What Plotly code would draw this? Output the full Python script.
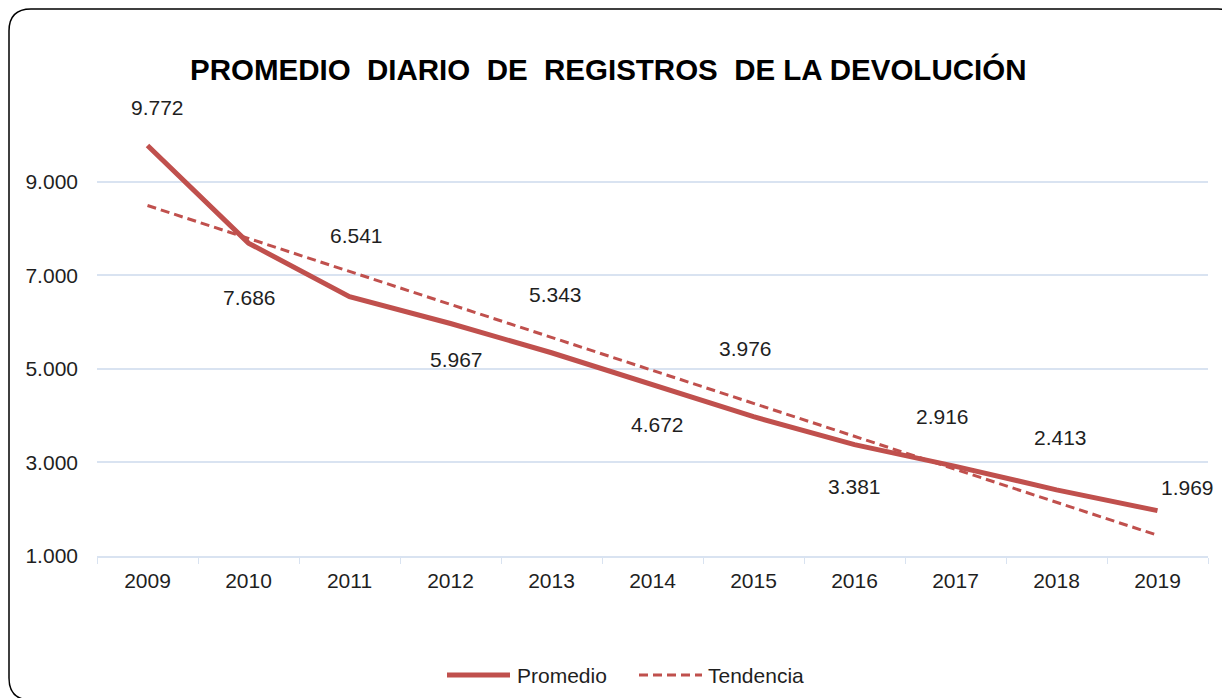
import plotly.graph_objects as go

# datos
years = ["2009", "2010", "2011", "2012", "2013", "2014", "2015", "2016", "2017", "2018", "2019"]
promedio = [9772, 7686, 6541, 5967, 5343, 4672, 3976, 3381, 2916, 2413, 1969]
tendencia = [8490, 7786, 7081, 6376, 5672, 4967, 4262, 3558, 2853, 2148, 1443]
y_ticks = [1000, 3000, 5000, 7000, 9000]

# desplazamiento de las etiquetas (px) respecto al punto
lbl_dx = [10, 1, 7, 6, 4, 5, -8, 0, -13, 4, 30]
lbl_dy = [38, -54, 61, -36, 58, -40, 68, -42, 50, 52, 23]

RED = "#C0504D"
GRID = "#D9E3F1"
TXT = "#1f1f1f"
FONT = "Liberation Sans, Arial, sans-serif"

# la página añade 8px de margen, así que la figura es 8px más pequeña
W, H = 1222, 690
L, R, T, B = 89, 22, 80, 142
pw, ph = W - L - R, H - T - B


def px(x):
    # x en píxeles de la imagen de referencia -> paper
    return (x - 8 - L) / pw


def py(y):
    return (H - B - (y - 8)) / ph


fig = go.Figure()
fig.add_trace(go.Scatter(x=years, y=tendencia, mode="lines", name="Tendencia",
                         line=dict(color=RED, width=3, dash="9px,5px")))
fig.add_trace(go.Scatter(x=years, y=promedio, mode="lines", name="Promedio",
                         line=dict(color=RED, width=5)))

for i, v in enumerate(promedio):
    fig.add_annotation(x=i, y=v, text=f"{v:,}".replace(",", "."), showarrow=False,
                       xanchor="center", yanchor="middle",
                       xshift=lbl_dx[i], yshift=lbl_dy[i],
                       font=dict(size=21, color=TXT, family=FONT))

# titulo
fig.add_annotation(xref="paper", yref="paper", x=px(608), y=py(70), xanchor="center", yanchor="middle",
                   text="<b>PROMEDIO\u00a0 DIARIO\u00a0 DE\u00a0 REGISTROS\u00a0 DE LA DEVOLUCIÓN</b>",
                   showarrow=False, font=dict(size=29.5, color="black", family=FONT))

# leyenda manual
fig.add_shape(type="line", xref="paper", yref="paper", x0=px(447), x1=px(510), y0=py(675), y1=py(675),
              line=dict(color=RED, width=5))
fig.add_annotation(xref="paper", yref="paper", x=px(515), y=py(675), xanchor="left", yanchor="middle",
                   text="Promedio", showarrow=False, font=dict(size=21, color=TXT, family=FONT))
fig.add_shape(type="line", xref="paper", yref="paper", x0=px(639), x1=px(702), y0=py(675), y1=py(675),
              line=dict(color=RED, width=3, dash="9px,5px"))
fig.add_annotation(xref="paper", yref="paper", x=px(706), y=py(675), xanchor="left", yanchor="middle",
                   text="Tendencia", showarrow=False, font=dict(size=21, color=TXT, family=FONT))

# borde redondeado (derecha y abajo quedan fuera del recorte)
r = 22
x0, y0, x1, y1 = 9, 9, 1240, 700
path = (f"M {px(x0)},{py(y0 + r)} Q {px(x0)},{py(y0)} {px(x0 + r)},{py(y0)} "
        f"L {px(x1 - r)},{py(y0)} Q {px(x1)},{py(y0)} {px(x1)},{py(y0 + r)} "
        f"L {px(x1)},{py(y1)} L {px(x0 + r)},{py(y1)} "
        f"Q {px(x0)},{py(y1)} {px(x0)},{py(y1 - r)} Z")
fig.add_shape(type="path", xref="paper", yref="paper", path=path,
              line=dict(color="black", width=1.5), layer="below")

fig.update_layout(
    width=W, height=H,
    margin=dict(l=L, r=R, t=T, b=B),
    paper_bgcolor="white", plot_bgcolor="white",
    showlegend=False,
    separators=",.",
    font=dict(family=FONT, size=21, color=TXT),
    xaxis=dict(type="category", range=[-0.5, 10.5], showgrid=False,
               showline=True, linecolor=GRID, linewidth=1.5,
               ticks="outside", tickson="boundaries", ticklen=6, tickcolor=GRID,
               ticklabelstandoff=5,
               tickfont=dict(size=21, color=TXT)),
    yaxis=dict(range=[1000, 11000], tickvals=y_ticks, tickformat=",.0f",
               showgrid=True, gridcolor=GRID, gridwidth=1.5, zeroline=False,
               showline=False, ticks="", ticklabelstandoff=18,
               tickfont=dict(size=21, color=TXT)),
)

fig.write_html("out.html")
